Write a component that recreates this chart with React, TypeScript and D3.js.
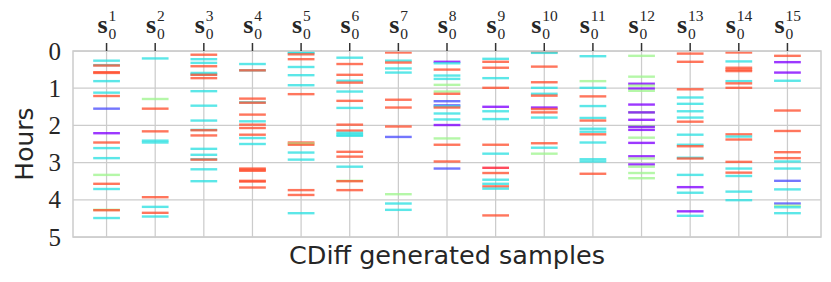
import React from "react";
import * as d3 from "d3";

type Ev = [number, string];

const sample1: Ev[] = [[0.26,"c"],[0.38,"c"],[0.39,"r"],[0.57,"r"],[0.59,"r"],[0.81,"c"],[1.12,"c"],[1.21,"r"],[1.55,"b"],[2.21,"p"],[2.46,"r"],[2.61,"c"],[2.88,"c"],[3.33,"g"],[3.57,"r"],[3.71,"c"],[4.27,"g"],[4.28,"r"],[4.49,"c"]];
const sample2: Ev[] = [[0.20,"c"],[1.29,"g"],[1.55,"r"],[2.16,"r"],[2.41,"c"],[2.46,"c"],[3.93,"r"],[4.19,"c"],[4.35,"r"],[4.45,"c"]];
const sample3: Ev[] = [[0.10,"r"],[0.22,"c"],[0.32,"c"],[0.41,"r"],[0.59,"c"],[0.63,"c"],[0.64,"r"],[0.73,"r"],[1.08,"c"],[1.47,"c"],[1.87,"c"],[2.12,"c"],[2.13,"r"],[2.27,"r"],[2.63,"c"],[2.79,"c"],[2.91,"c"],[2.92,"r"],[3.18,"c"],[3.50,"c"]];
const sample4: Ev[] = [[0.35,"c"],[0.52,"c"],[0.52,"r"],[1.28,"r"],[1.38,"c"],[1.39,"r"],[1.71,"r"],[1.89,"c"],[1.98,"r"],[2.07,"r"],[2.25,"r"],[2.34,"c"],[2.50,"c"],[3.16,"r"],[3.19,"r"],[3.22,"r"],[3.49,"r"],[3.51,"r"],[3.67,"r"]];
const sample5: Ev[] = [[0.04,"c"],[0.06,"c"],[0.09,"r"],[0.22,"r"],[0.43,"c"],[0.65,"c"],[0.92,"c"],[1.16,"r"],[2.46,"r"],[2.49,"g"],[2.52,"r"],[2.73,"c"],[2.92,"c"],[3.74,"r"],[3.87,"r"],[4.36,"c"]];
const sample6: Ev[] = [[0.18,"c"],[0.35,"r"],[0.64,"r"],[0.80,"c"],[0.85,"r"],[1.09,"c"],[1.34,"r"],[1.53,"c"],[1.98,"r"],[2.14,"r"],[2.20,"c"],[2.25,"c"],[2.28,"c"],[2.71,"r"],[2.84,"r"],[3.11,"c"],[3.49,"g"],[3.50,"r"],[3.74,"r"]];
const sample7: Ev[] = [[0.04,"r"],[0.26,"c"],[0.31,"r"],[0.47,"c"],[0.58,"c"],[1.31,"r"],[1.52,"r"],[2.03,"r"],[2.31,"b"],[3.85,"g"],[4.10,"c"],[4.27,"c"]];
const sample8: Ev[] = [[0.29,"p"],[0.33,"c"],[0.50,"r"],[0.66,"c"],[0.75,"c"],[0.91,"g"],[1.09,"g"],[1.15,"r"],[1.35,"b"],[1.46,"b"],[1.49,"c"],[1.52,"r"],[1.68,"c"],[1.84,"c"],[1.99,"p"],[2.35,"g"],[2.52,"r"],[2.97,"r"],[3.16,"b"]];
const sample9: Ev[] = [[0.21,"c"],[0.29,"r"],[0.45,"r"],[0.73,"c"],[0.99,"r"],[1.50,"p"],[1.62,"c"],[1.83,"c"],[2.52,"r"],[2.76,"c"],[3.14,"R"],[3.28,"r"],[3.46,"c"],[3.57,"c"],[3.64,"r"],[3.70,"c"],[4.42,"r"]];
const sample10: Ev[] = [[0.03,"r"],[0.05,"c"],[0.42,"r"],[0.84,"r"],[0.99,"c"],[1.15,"c"],[1.20,"r"],[1.52,"p"],[1.56,"r"],[1.65,"r"],[1.79,"c"],[2.48,"r"],[2.60,"c"],[2.76,"g"]];
const sample11: Ev[] = [[0.14,"c"],[0.81,"g"],[0.99,"c"],[1.22,"r"],[1.48,"c"],[1.80,"c"],[1.87,"r"],[2.09,"c"],[2.17,"c"],[2.24,"r"],[2.46,"c"],[2.91,"c"],[2.97,"c"],[3.30,"r"]];
const sample12: Ev[] = [[0.13,"g"],[0.69,"g"],[0.88,"p"],[0.93,"g"],[1.01,"p"],[1.07,"g"],[1.44,"p"],[1.65,"g"],[1.65,"p"],[1.85,"p"],[2.02,"g"],[2.04,"p"],[2.12,"p"],[2.33,"g"],[2.47,"p"],[2.83,"p"],[2.89,"g"],[3.05,"p"],[3.11,"g"],[3.28,"g"],[3.42,"g"]];
const sample13: Ev[] = [[0.07,"r"],[0.29,"r"],[1.03,"r"],[1.25,"c"],[1.42,"c"],[1.62,"c"],[1.79,"c"],[1.90,"r"],[2.25,"c"],[2.52,"c"],[2.56,"r"],[2.87,"c"],[2.89,"r"],[3.33,"c"],[3.66,"p"],[3.81,"c"],[4.31,"p"],[4.43,"c"]];
const sample14: Ev[] = [[0.04,"r"],[0.28,"c"],[0.45,"r"],[0.50,"r"],[0.54,"r"],[0.81,"c"],[0.87,"r"],[0.99,"r"],[2.24,"r"],[2.30,"c"],[2.38,"r"],[2.98,"r"],[3.16,"c"],[3.27,"r"],[3.36,"c"],[3.78,"c"],[4.01,"c"]];
const sample15: Ev[] = [[0.13,"r"],[0.30,"p"],[0.58,"p"],[0.80,"c"],[1.60,"r"],[2.15,"r"],[2.72,"r"],[2.88,"r"],[2.97,"c"],[3.16,"c"],[3.49,"b"],[3.72,"c"],[4.10,"b"],[4.16,"g"],[4.20,"c"],[4.36,"c"]];

const samples: Ev[][] = [sample1, sample2, sample3, sample4, sample5, sample6, sample7, sample8, sample9, sample10, sample11, sample12, sample13, sample14, sample15];
const sampleIndices = samples.map((_, i) => i + 1);
const hourTicks = [0, 1, 2, 3, 4, 5];

const kindColor: Record<string, string> = {
  r: "#ff5030",
  R: "#ff1a30",
  c: "#2ee0e2",
  p: "#8000ff",
  b: "#4d50fc",
  g: "#a0f590",
};

const W = 831, H = 282;
const M = { left: 73, right: 821, top: 51, bottom: 237 };
const grid = "#cccccc";
const ink = "#262626";

export default function App() {
  const x = d3.scaleLinear().domain([-0.69, samples.length - 1 + 0.69]).range([M.left, M.right]);
  const y = d3.scaleLinear().domain([0, 5]).range([M.top, M.bottom]);
  const half = 0.275;

  return (
    <svg width={W} height={H} style={{ position: "absolute", left: 0, top: 0 }}>
      <rect x={0} y={0} width={W} height={H} fill="#fff" />
      {hourTicks.map((h) => (
        <line key={"h" + h} x1={M.left} x2={M.right} y1={y(h)} y2={y(h)} stroke={grid} strokeWidth={1.25} />
      ))}
      {samples.map((_, i) => (
        <line key={"v" + i} x1={x(i)} x2={x(i)} y1={M.top} y2={M.bottom} stroke={grid} strokeWidth={1.25} />
      ))}
      {samples.map((evs, i) =>
        evs.map(([h, k], j) => (
          <line
            key={i + "-" + j}
            x1={x(i - half)}
            x2={x(i + half)}
            y1={y(h)}
            y2={y(h)}
            stroke={kindColor[k]}
            strokeWidth={2.4}
            strokeOpacity={0.78}
          />
        ))
      )}
      <rect x={M.left} y={M.top} width={M.right - M.left} height={M.bottom - M.top} fill="none" stroke={grid} strokeWidth={1.5} />
      {samples.map((_, i) => (
        <line key={"t" + i} x1={x(i)} x2={x(i)} y1={M.top - 8} y2={M.top} stroke="#333" strokeWidth={1.5} />
      ))}
      {sampleIndices.map((n, i) => {
        const sup = String(n);
        const supW = sup.length * 7.8;
        const total = 10.5 + supW;
        const left = x(i) - total / 2;
        return (
          <g key={"l" + i} fill={ink}>
            <text x={left} y={32.7} fontFamily="Liberation Serif" fontWeight="bold" fontSize={26}>s</text>
            <text x={left + 11} y={21} fontFamily="Liberation Serif" fontSize={15.5}>{sup}</text>
            <text x={left + 11} y={38.5} fontFamily="Liberation Serif" fontSize={15.5}>0</text>
          </g>
        );
      })}
      {hourTicks.map((h) => (
        <text key={"yl" + h} x={61} y={y(h) + 8.5} textAnchor="end" fontFamily="Liberation Serif" fontSize={25} fill={ink}>
          {h}
        </text>
      ))}
      <text transform="translate(33,144) rotate(-90)" textAnchor="middle" fontFamily="DejaVu Sans" fontSize={25} fill={ink}>
        Hours
      </text>
      <text x={447} y={264} textAnchor="middle" fontFamily="DejaVu Sans" fontSize={25.5} fill={ink}>
        CDiff generated samples
      </text>
    </svg>
  );
}
